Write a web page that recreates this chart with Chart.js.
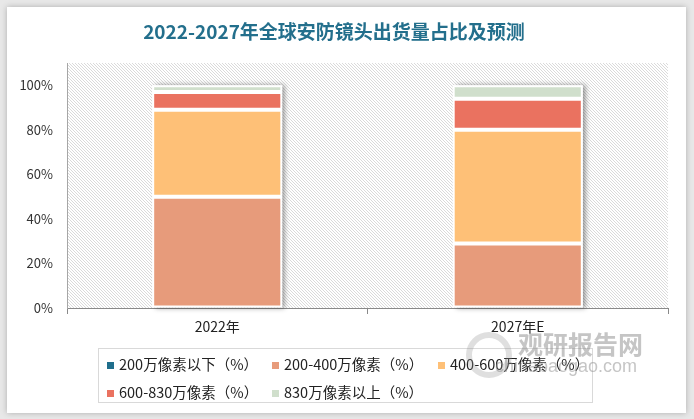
<!DOCTYPE html>
<html>
<head>
<meta charset="utf-8">
<script src="https://cdn.jsdelivr.net/npm/chart.js@4/dist/chart.umd.min.js"></script>
<style>
	html, body { margin: 0; padding: 0; }
	body { width: 694px; height: 419px; background: #e8e8e8; position: relative; overflow: hidden; font-family: 'Noto Sans CJK SC', sans-serif; }
	#card { position: absolute; left: 7px; top: 7px; width: 679px; height: 406px; background: #fff; box-shadow: 0 0 6px rgba(0,0,0,0.25); }
	#chart { position: absolute; left: 0; top: 0; }
	#legend { position: absolute; left: 98px; top: 348px; width: 495px; height: 55px; border: 1px solid #d9d9d9; box-sizing: border-box; }
	.item { position: absolute; font-size: 14.5px; color: #222; line-height: 20px; white-space: nowrap; }
	.item span { display: inline-block; width: 7px; height: 7px; margin-right: 5px; vertical-align: 1px; }
	.mark { position: absolute; color: rgba(140,140,140,0.5); white-space: nowrap; }
	#ring { position: absolute; left: 466px; top: 332px; width: 34px; height: 34px; border: 6px solid rgba(150,150,150,0.3); border-radius: 50%; }
</style>
</head>
<body>
<div id="card"></div>
<canvas id="chart" width="694" height="419"></canvas>
<div id="legend"></div>
<div id="ring"></div>
<div class="mark" style="left:518px;top:325px;font-size:25px;font-weight:bold;">观研报告网</div>
<div class="mark" style="left:495px;top:356px;font-size:18px;font-family:'Liberation Sans',sans-serif;">chinabaogao.com</div>
<script>
var categories = ['2022年', '2027年E'];
var seriesNames = ['200万像素以下（%）', '200-400万像素（%）', '400-600万像素（%）', '600-830万像素（%）', '830万像素以上（%）'];
var below200 = [0, 0];
var from200to400 = [50, 29];
var from400to600 = [39, 51];
var from600to830 = [8, 14];
var above830 = [3, 6];
var yTicks = [0, 20, 40, 60, 80, 100];

var colors = ['#1f6e8c', '#e79b7b', '#fec077', '#ea7260', '#d0dfcc'];
var seriesValues = [below200, from200to400, from400to600, from600to830, above830];

// diagonal hatch for the plot area
function makeHatch() {
	var c = document.createElement('canvas');
	c.width = 3;
	c.height = 3;
	var g = c.getContext('2d');
	g.strokeStyle = '#dadada';
	g.lineWidth = 1;
	g.beginPath();
	g.moveTo(-1, -1); g.lineTo(4, 4);
	g.moveTo(2, -1); g.lineTo(4, 1);
	g.moveTo(-1, 2); g.lineTo(1, 4);
	g.stroke();
	return c;
}

var hatchPlugin = {
	id: 'hatch',
	beforeDraw: function(chart) {
		var a = chart.chartArea;
		var ctx = chart.ctx;
		ctx.save();
		ctx.fillStyle = ctx.createPattern(makeHatch(), 'repeat');
		ctx.fillRect(a.left, a.top, a.right - a.left, a.bottom - a.top);
		ctx.restore();
	}
};

// shadow behind each whole stack
var shadowPlugin = {
	id: 'stackShadow',
	beforeDatasetsDraw: function(chart) {
		var ctx = chart.ctx;
		var n = chart.data.datasets.length;
		categories.forEach(function(c, i) {
			var top = null, bottom = null, left = null, width = null;
			for (var d = 0; d < n; d++) {
				var bar = chart.getDatasetMeta(d).data[i];
				if (!bar) continue;
				var p = bar.getProps(['x', 'y', 'base', 'width'], true);
				if (p.y === p.base) continue;
				top = top === null ? p.y : Math.min(top, p.y);
				bottom = bottom === null ? p.base : Math.max(bottom, p.base);
				left = p.x - p.width / 2;
				width = p.width;
			}
			if (top === null) return;
			ctx.save();
			ctx.shadowColor = 'rgba(0,0,0,0.4)';
			ctx.shadowBlur = 5;
			ctx.shadowOffsetX = 3;
			ctx.shadowOffsetY = 0;
			ctx.fillStyle = '#fff';
			ctx.fillRect(left, top, width, bottom - top);
			ctx.restore();
		});
	}
};

var datasets = seriesNames.map(function(name, i) {
	return {
		label: name,
		data: seriesValues[i],
		backgroundColor: colors[i],
		borderColor: '#fff',
		borderWidth: 2,
		borderSkipped: false,
		categoryPercentage: 1,
		barPercentage: 0.433
	};
});

var chart = new Chart(document.getElementById('chart'), {
	type: 'bar',
	data: { labels: categories, datasets: datasets },
	plugins: [hatchPlugin, shadowPlugin],
	options: {
		responsive: false,
		animation: false,
		layout: { padding: { left: 0, right: 26, top: 0, bottom: 81 } },
		plugins: {
			legend: { display: false },
			tooltip: { enabled: false },
			title: {
				display: true,
				text: '2022-2027年全球安防镜头出货量占比及预测',
				color: '#236f8c',
				font: { family: 'Noto Sans CJK SC', size: 19, weight: 'bold' },
				padding: { top: 20, bottom: 20.2 }
			}
		},
		scales: {
			x: {
				stacked: true,
				grid: { display: true, drawOnChartArea: false, tickLength: 6, color: '#898989' },
				border: { color: '#898989', width: 1 },
				ticks: { color: '#222', padding: 4, font: { family: 'Noto Sans CJK SC', size: 14 } },
				afterFit: function(scale) { scale.height = 30; }
			},
			y: {
				stacked: true,
				min: 0,
				max: 110,
				grid: { display: true, drawOnChartArea: false, drawTicks: false },
				border: { color: '#a6a6a6', width: 1 },
				afterBuildTicks: function(scale) {
					scale.ticks = yTicks.map(function(v) { return { value: v }; });
				},
				ticks: {
					color: '#333',
					padding: 14,
					font: { family: 'Noto Sans CJK SC', size: 13 },
					callback: function(v) { return v + '%'; }
				},
				afterFit: function(scale) { scale.width = 67; }
			}
		}
	}
});

// legend laid out in fixed columns like the original
var legend = document.getElementById('legend');
var colLeft = [8, 173, 339];
var rowTop = [5, 33];
chart.data.datasets.forEach(function(ds, i) {
	var el = document.createElement('div');
	el.className = 'item';
	el.style.left = colLeft[i % 3] + 'px';
	el.style.top = rowTop[Math.floor(i / 3)] + 'px';
	el.innerHTML = '<span style="background:' + ds.backgroundColor + '"></span>' + ds.label;
	legend.appendChild(el);
});
</script>
</body>
</html>
